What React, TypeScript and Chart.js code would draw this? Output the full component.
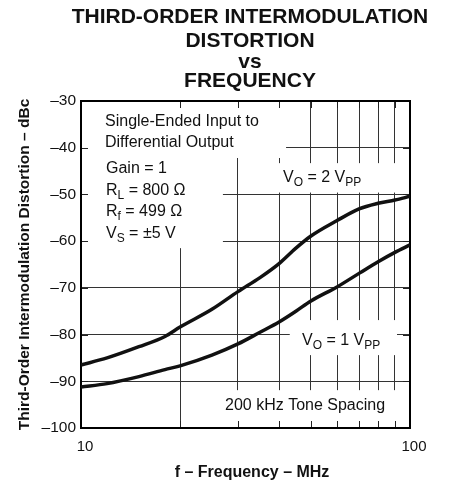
import React, { useEffect, useRef } from 'react';
import { Chart, registerables } from 'chart.js';

Chart.register(...registerables);

// ---- data ----
const frequenciesMHz = [10, 12, 15, 18, 20, 25, 30, 35, 40, 45, 50, 60, 70, 80, 90, 100];
const imdVo2Vpp = [-86.5, -85.0, -82.6, -80.4, -78.4, -74.6, -70.8, -67.8, -64.8, -61.5, -58.9, -55.6, -53.1, -51.9, -51.2, -50.4];
const imdVo1Vpp = [-91.2, -90.5, -89.0, -87.5, -86.7, -84.4, -82.0, -79.5, -77.3, -75.0, -72.8, -69.8, -66.9, -64.4, -62.4, -60.8];

const xTickValues = [10, 20, 30, 40, 50, 60, 70, 80, 90, 100];
const xTickLabels = ['10', '', '', '', '', '', '', '', '', '100'];
const yMin = -100;
const yMax = -30;
const yStep = 10;

const titleLines = ['THIRD-ORDER INTERMODULATION', 'DISTORTION', 'vs', 'FREQUENCY'];
const xAxisTitle = 'f \u2013 Frequency \u2013 MHz';
const yAxisTitle = 'Third-Order Intermodulation Distortion \u2013 dBc';

type Seg = { t: string; sub?: boolean };
const noteInput: Seg[][] = [[{ t: 'Single-Ended Input to' }], [{ t: 'Differential Output' }]];
const noteParams: Seg[][] = [
  [{ t: 'Gain = 1' }],
  [{ t: 'R' }, { t: 'L', sub: true }, { t: ' = 800 \u03A9' }],
  [{ t: 'R' }, { t: 'f', sub: true }, { t: ' = 499 \u03A9' }],
  [{ t: 'V' }, { t: 'S', sub: true }, { t: ' = \u00B15 V' }],
];
const noteVo2: Seg[] = [{ t: 'V' }, { t: 'O', sub: true }, { t: ' = 2 V' }, { t: 'PP', sub: true }];
const noteVo1: Seg[] = [{ t: 'V' }, { t: 'O', sub: true }, { t: ' = 1 V' }, { t: 'PP', sub: true }];
const noteTone: Seg[] = [{ t: '200 kHz Tone Spacing' }];

// ---- styling / layout (not data) ----
const FONT = '"Liberation Sans", Arial, Helvetica, sans-serif';
const INK = '#111';

// white masks behind the annotations, in axis units [f0, f1, dB0, dB1]
const masks = [
  [10, 42, -30, -42.2],
  [10, 27, -30, -61.5],
  [37, 100, -43.3, -49.6],
  [43.1, 91.3, -76.9, -84.4],
  [26.9, 93.2, -91.9, -100],
];

function drawRich(ctx: CanvasRenderingContext2D, segs: Seg[], x: number, y: number) {
  let cx = x;
  for (const s of segs) {
    ctx.font = s.sub ? `12px ${FONT}` : `16px ${FONT}`;
    ctx.fillText(s.t, cx, s.sub ? y + 4 : y);
    cx += ctx.measureText(s.t).width;
  }
}

const overlayPlugin = {
  id: 'overlay',
  beforeDatasetsDraw(chart: any) {
    const { ctx, chartArea: a, scales } = chart;
    const xs = scales.x;
    const ys = scales.y;
    ctx.save();
    // masks
    ctx.fillStyle = '#fff';
    for (const m of masks) {
      const x1 = xs.getPixelForValue(m[0]);
      const x2 = xs.getPixelForValue(m[1]);
      const y1 = ys.getPixelForValue(m[2]);
      const y2 = ys.getPixelForValue(m[3]);
      ctx.fillRect(Math.min(x1, x2), Math.min(y1, y2), Math.abs(x2 - x1), Math.abs(y2 - y1));
    }
    // inner tick marks
    ctx.strokeStyle = '#222';
    ctx.lineWidth = 1;
    ctx.beginPath();
    const tl = 7;
    for (const t of xs.ticks) {
      const px = Math.round(xs.getPixelForValue(t.value)) + 0.5;
      ctx.moveTo(px, a.top);
      ctx.lineTo(px, a.top + tl);
      ctx.moveTo(px, a.bottom);
      ctx.lineTo(px, a.bottom - tl);
    }
    for (const t of ys.ticks) {
      const py = Math.round(ys.getPixelForValue(t.value)) + 0.5;
      ctx.moveTo(a.left, py);
      ctx.lineTo(a.left + tl, py);
      ctx.moveTo(a.right, py);
      ctx.lineTo(a.right - tl, py);
    }
    ctx.stroke();
    // frame
    ctx.strokeStyle = '#000';
    ctx.lineWidth = 2;
    ctx.strokeRect(a.left, a.top, a.right - a.left, a.bottom - a.top);
    // annotations
    ctx.fillStyle = INK;
    ctx.textAlign = 'left';
    ctx.textBaseline = 'alphabetic';
    noteInput.forEach((l, i) => drawRich(ctx, l, a.left + 24, a.top + 25 + i * 21));
    noteParams.forEach((l, i) => drawRich(ctx, l, a.left + 25, a.top + 72 + i * 21.5));
    drawRich(ctx, noteVo2, a.left + 202, a.top + 81);
    drawRich(ctx, noteVo1, a.left + 221, a.top + 244);
    drawRich(ctx, noteTone, a.left + 144, a.top + 309);
    ctx.restore();
  },
  afterDraw(chart: any) {
    const { ctx, chartArea: a } = chart;
    ctx.save();
    ctx.fillStyle = INK;
    ctx.textAlign = 'center';
    ctx.textBaseline = 'alphabetic';
    ctx.font = `bold 21px ${FONT}`;
    const cx = (a.left + a.right) / 2 + 4.5;
    const baselines = [23, 47, 68, 87];
    titleLines.forEach((t, i) => ctx.fillText(t, cx, baselines[i]));
    // x-axis title
    ctx.font = `bold 16px ${FONT}`;
    ctx.fillText(xAxisTitle, (a.left + a.right) / 2 + 6.5, a.bottom + 49);
    ctx.restore();
  },
};

export default function App() {
  const ref = useRef<HTMLCanvasElement>(null);
  useEffect(() => {
    document.body.style.margin = '0';
    const canvas = ref.current!;
    const chart = new Chart(canvas, {
      type: 'line',
      data: {
        datasets: [
          {
            label: 'VO = 2 VPP',
            data: frequenciesMHz.map((f, i) => ({ x: f, y: imdVo2Vpp[i] })),
            borderColor: '#111',
            borderWidth: 3.5,
            pointRadius: 0,
            tension: 0.4,
            cubicInterpolationMode: 'monotone',
            fill: false,
          },
          {
            label: 'VO = 1 VPP',
            data: frequenciesMHz.map((f, i) => ({ x: f, y: imdVo1Vpp[i] })),
            borderColor: '#111',
            borderWidth: 3.5,
            pointRadius: 0,
            tension: 0.4,
            cubicInterpolationMode: 'monotone',
            fill: false,
          },
        ],
      },
      options: {
        responsive: false,
        animation: false,
        layout: { padding: { top: 101, right: 39, left: 0, bottom: 0 } },
        plugins: {
          legend: { display: false },
          tooltip: { enabled: false },
          title: { display: false },
        },
        scales: {
          x: {
            type: 'logarithmic',
            min: 10,
            max: 100,
            afterBuildTicks: (s: any) => {
              s.ticks = xTickValues.map((v) => ({ value: v }));
            },
            afterFit: (s: any) => {
              s.height = 53;
            },
            grid: { color: '#333', lineWidth: 1, drawTicks: false },
            border: { display: true, color: '#000', width: 2 },
            ticks: {
              autoSkip: false,
              maxRotation: 0,
              padding: 10,
              labelOffset: 4,
              color: INK,
              font: { family: FONT, size: 15 },
              callback: (_v: any, i: number) => xTickLabels[i],
            },
            title: { display: false, text: xAxisTitle },
          },
          y: {
            min: yMin,
            max: yMax,
            afterFit: (s: any) => {
              s.width = 81;
            },
            grid: { color: '#333', lineWidth: 1, drawTicks: false },
            border: { display: true, color: '#000', width: 2 },
            ticks: {
              stepSize: yStep,
              padding: 5,
              color: INK,
              font: { family: FONT, size: 15.5 },
              callback: (v: any) => (v < 0 ? '\u2013' + Math.abs(v) : String(v)),
            },
            title: {
              display: true,
              text: yAxisTitle,
              color: INK,
              font: { family: FONT, size: 15.5, weight: 'bold' },
              padding: { top: 15.7, bottom: 0 },
            },
          },
        },
      },
      plugins: [overlayPlugin],
    } as any);
    return () => chart.destroy();
  }, []);
  return <canvas ref={ref} width={449} height={481} style={{ display: 'block', width: 449, height: 481 }} />;
}
